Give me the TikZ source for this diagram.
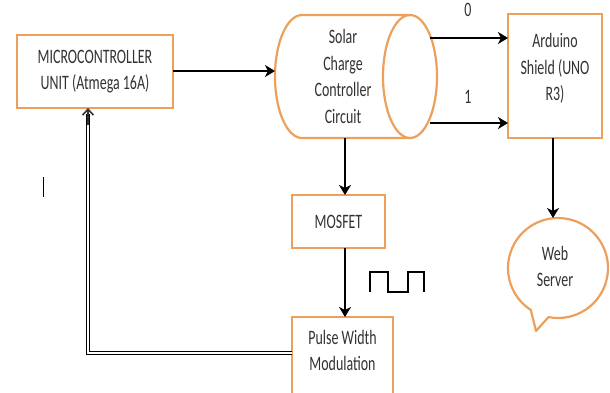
\documentclass[tikz,border=0pt]{standalone}
\usepackage{fontspec}
\setmainfont{Carlito}[FakeStretch=0.68]
\usetikzlibrary{arrows.meta,calc}
\definecolor{boxor}{RGB}{236,160,92}
\definecolor{txtc}{RGB}{50,50,50}
\begin{document}
\begin{tikzpicture}[x=1pt,y=-1pt,
  box/.style={draw=boxor, line width=2.2pt, rectangle, inner sep=0pt, outer sep=0pt},
  txt/.style={align=center, font=\fontsize{20.5}{26.5}\selectfont, text=txtc, inner sep=0pt},
  arr/.style={line width=2.6pt, -{Stealth[length=10pt,width=12pt,inset=3pt]}},
  fb/.style={draw=black, line width=0.9pt, double=white, double distance=1.8pt},
  wave/.style={line width=1.5pt}]
\useasboundingbox (0,0) rectangle (610,392);
% boxes
\node[box, txt, minimum width=156pt, minimum height=73pt] (mcu) at (95,71.5) {MICROCONTROLLER\\UNIT (Atmega 16A)};
\node[minimum width=162pt, minimum height=123pt, inner sep=0pt, outer sep=0pt] (cyl) at (356,76.5) {};
\draw[boxor, line width=2.2pt] (410,15) -- (302,15) arc[start angle=90, end angle=270, x radius=27pt, y radius=61.5pt] -- (410,138);
\draw[boxor, line width=2.2pt] (410,76.5) ellipse[x radius=27pt, y radius=61.5pt];
\node[txt] (cylt) at (343,76.5) {Solar\\Charge\\Controller\\Circuit};
\node[box, minimum width=94pt, minimum height=124pt] (ard) at (555,76) {};
\node[txt] (ardt) at (555,68.5) {Arduino\\Shield (UNO\\R3)};
\node[box, txt, minimum width=93pt, minimum height=53pt] (mos) at (338.5,221.5) {MOSFET};
\node[box, minimum width=101pt, minimum height=90pt] (pwm) at (342.5,362) {};
\node[txt] (pwmt) at (342.5,350.5) {Pulse Width\\Modulation};
\node[circle, minimum size=100pt, inner sep=0pt, outer sep=0pt] (web) at (558,268) {};
\coordinate (tip) at (536,331);
\draw[boxor, line width=2.2pt, line join=round] (web.259) arc[start angle=259, end angle=597, radius=50pt] -- (tip) -- cycle;
\node[txt] (webt) at (555,266.5) {Web\\Server};
% connector helpers
\coordinate (xa) at (345,0);
\coordinate (xb) at (553,0);
\coordinate (xf) at (88,0);
\coordinate (y0) at (0,38);
\coordinate (y1) at (0,123);
\coordinate (yf) at (0,353);
\coordinate (x0) at (430,0);
% connectors
\draw[arr] (mcu.east |- 0,71) -- (cyl.west |- 0,71);
\draw[arr] (x0 |- y0) -- (ard.west |- y0);
\node[txt] (l0) at (468,10) {0};
\draw[arr] (x0 |- y1) -- (ard.west |- y1);
\node[txt] (l1) at (468,97) {1};
\draw[arr] (cyl.south -| xa) -- (mos.north -| xa);
\draw[arr] (mos.south -| xa) -- (pwm.north -| xa);
\draw[arr] (ard.south -| xb) -- (web.north -| xb);
\draw[fb] (pwm.west |- yf) -- (xf |- yf) -- ($(xf |- mcu.south)+(0,6)$);
\draw[line width=1.6pt, black!80, -{Straight Barb[length=6pt,width=11pt]}] (xf |- 0,125) -- (xf |- mcu.south);
% square wave
\draw[wave] (370,292) |- (388,272) |- (408,292) |- (424,272) -- (424,292);
% stray mark
\draw[line width=1pt] (43,177) -- (43,197);
\end{tikzpicture}
\end{document}
